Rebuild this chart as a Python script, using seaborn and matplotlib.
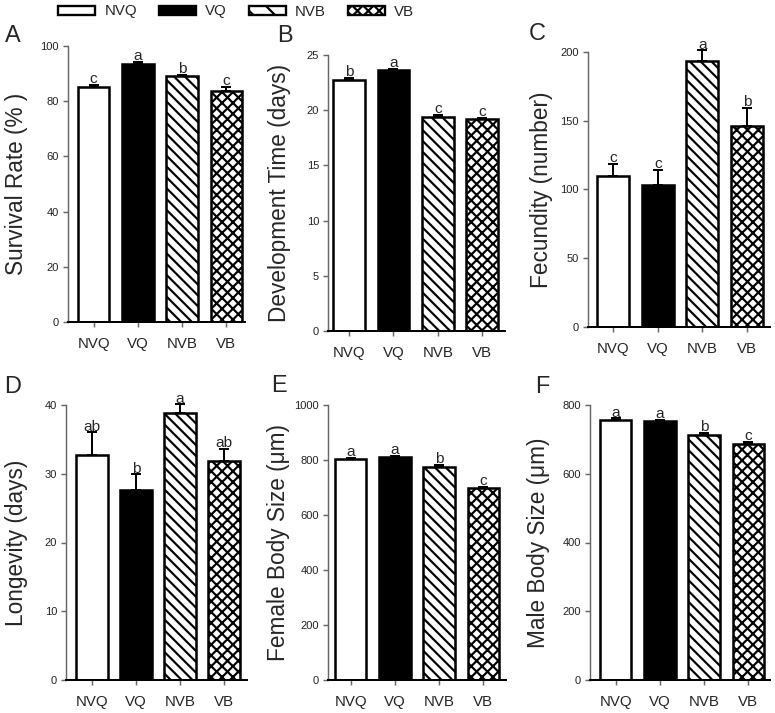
import numpy as np
import matplotlib
matplotlib.use("Agg")
import matplotlib.pyplot as plt
import matplotlib.transforms as mtransforms
from matplotlib.patches import Patch
import seaborn as sns

W, H, DPI = 775, 713, 130

groups = ["NVQ", "VQ", "NVB", "VB"]

survival = [85.0, 93.3, 89.1, 83.7]
survival_se = [1.0, 1.0, 0.5, 1.5]
survival_sig = ["c", "a", "b", "c"]

dev_time = [22.7, 23.6, 19.4, 19.2]
dev_time_se = [0.2, 0.15, 0.15, 0.1]
dev_time_sig = ["b", "a", "c", "c"]

fecundity = [109.5, 103.3, 193.7, 145.9]
fecundity_se = [9.3, 10.9, 7.5, 13.4]
fecundity_sig = ["c", "c", "a", "b"]

longevity = [32.8, 27.6, 38.8, 31.9]
longevity_se = [3.2, 2.3, 1.3, 1.7]
longevity_sig = ["ab", "b", "a", "ab"]

female_size = [802, 811, 776, 697]
female_size_se = [5, 5, 5, 5]
female_size_sig = ["a", "a", "b", "c"]

male_size = [756, 752, 714, 688]
male_size_se = [5, 5, 5, 5]
male_size_sig = ["a", "a", "b", "c"]

face_colors = ["white", "black", "white", "white"]
hatches = ["", "", "\\\\\\\\", "xxxx"]
legend_hatches = ["", "", "\\\\", "xxxx"]

sns.set_style("ticks")
plt.rcParams["font.family"] = ["Liberation Sans", "DejaVu Sans"]
plt.rcParams["hatch.linewidth"] = 1.2

fig = plt.figure(figsize=(W / DPI, H / DPI), dpi=DPI)


def px_rect(l, t, r, b):
    return [l / W, 1 - b / H, (r - l) / W, (b - t) / H]


# (letter, values, se, sig letters, ylabel, ylim, yticks, axes box px, xlim, label dx px, letter pos px)
panels = [
    ("A", survival, survival_se, survival_sig, "Survival Rate (% )", 100, np.arange(0, 101, 20),
     (68, 46, 245, 322), (-0.58, 3.42), -40, (13, 36)),
    ("B", dev_time, dev_time_se, dev_time_sig, "Development Time (days)", 25, np.arange(0, 26, 5),
     (328, 55, 505, 331), (-0.48, 3.52), -37, (285, 36)),
    ("C", fecundity, fecundity_se, fecundity_sig, "Fecundity (number)", 200, np.arange(0, 201, 50),
     (588, 52, 770, 327), (-0.57, 3.52), -35, (537, 34)),
    ("D", longevity, longevity_se, longevity_sig, "Longevity (days)", 40, np.arange(0, 41, 10),
     (66, 405, 247, 680), (-0.585, 3.52), -38, (13, 386)),
    ("E", female_size, female_size_se, female_size_sig, "Female Body Size (μm)", 1000, np.arange(0, 1001, 200),
     (328, 405, 506, 680), (-0.51, 3.51), -38, (279, 385)),
    ("F", male_size, male_size_se, male_size_sig, "Male Body Size (μm)", 800, np.arange(0, 801, 200),
     (590, 405, 770, 680), (-0.58, 3.49), -40, (542, 386)),
]

for letter, vals, se, sig, ylabel, ytop, yticks, box, xlim, dx, lpos in panels:
    ax = fig.add_axes(px_rect(*box))
    sns.barplot(x=groups, y=vals, hue=groups, palette=dict(zip(groups, face_colors)),
                saturation=1, edgecolor="black", linewidth=1.4, width=0.715,
                errorbar=None, legend=False, ax=ax)
    for patch, h in zip(ax.patches, hatches):
        patch.set_hatch(h)

    x = np.arange(len(groups))
    ax.errorbar(x, vals, yerr=[np.zeros(len(se)), se], fmt="none", ecolor="black",
                elinewidth=1.1, capsize=2.5, capthick=1.1, clip_on=False, zorder=1)

    off = mtransforms.offset_copy(ax.transData, fig=fig, y=1.0, units="points")
    for xi, v, e, s in zip(x, vals, se, sig):
        ax.text(xi, v + e, s, transform=off, ha="center", va="baseline", fontsize=8.5)

    ax.set_xlim(*xlim)
    ax.set_ylim(0, ytop)
    ax.set_yticks(yticks)
    ax.set_xlabel("")
    ax.set_ylabel(ylabel, fontsize=12.5)
    ax.yaxis.set_label_coords(dx / (box[2] - box[0]), 0.5)

    sns.despine(ax=ax)
    ax.spines["left"].set_color("#666666")
    ax.spines["left"].set_linewidth(0.8)
    ax.spines["bottom"].set_color("black")
    ax.spines["bottom"].set_linewidth(1.1)
    ax.tick_params(axis="y", length=3, width=0.8, color="#666666", labelsize=6.2,
                   labelcolor="#222222", pad=2)
    ax.tick_params(axis="x", length=2.5, width=0.8, color="#666666", labelsize=8.3, pad=6)

    fig.text(lpos[0] / W, 1 - lpos[1] / H, letter, fontsize=13, ha="center", va="center")

handles = [Patch(facecolor=c, edgecolor="black", hatch=h, linewidth=1.3)
           for c, h in zip(face_colors, legend_hatches)]
fig.legend(handles, groups, loc="center", bbox_to_anchor=(236 / W, 1 - 11.5 / H), ncol=4,
           frameon=False, handlelength=2.5, handleheight=0.55, handletextpad=0.6,
           columnspacing=1.45, fontsize=8.3, borderpad=0)

fig.savefig("out.png", dpi=DPI)
